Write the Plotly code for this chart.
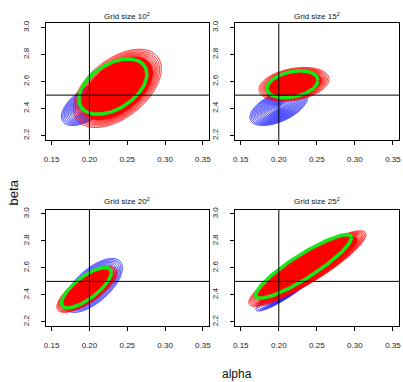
import numpy as np
import plotly.graph_objects as go

# ---------------- data ----------------
titles = ["Grid size 10<sup>2</sup>", "Grid size 15<sup>2</sup>",
          "Grid size 20<sup>2</sup>", "Grid size 25<sup>2</sup>"]
x_ticks = [0.15, 0.20, 0.25, 0.30, 0.35]
x_tick_labels = ["0.15", "0.20", "0.25", "0.30", "0.35"]
y_ticks = [2.2, 2.4, 2.6, 2.8, 3.0]
y_tick_labels = ["2.2", "2.4", "2.6", "2.8", "3.0"]
true_alpha = 0.2
true_beta = 2.5

# red posterior (per panel): centre, half extent of outer contour, correlation
red_center_alpha = [0.237, 0.220, 0.197, 0.2375]
red_center_beta = [2.550, 2.580, 2.440, 2.595]
red_half_alpha = [0.058, 0.046, 0.040, 0.077]
red_half_beta = [0.290, 0.125, 0.170, 0.280]
red_corr = [0.50, 0.30, 0.75, 0.90]
red_fill_frac = [0.80, 0.78, 0.82, 0.85]

# blue posterior
blue_center_alpha = [0.200, 0.200, 0.205, 0.215]
blue_center_beta = [2.440, 2.410, 2.470, 2.460]
blue_half_alpha = [0.037, 0.038, 0.0386, 0.045]
blue_half_beta = [0.165, 0.135, 0.200, 0.180]
blue_corr = [0.60, 0.55, 0.65, 0.92]

# green ellipse
green_center_alpha = [0.231, 0.218, 0.196, 0.2325]
green_center_beta = [2.563, 2.580, 2.453, 2.611]
green_half_alpha = [0.045, 0.0335, 0.033, 0.063]
green_half_beta = [0.205, 0.100, 0.150, 0.236]
green_corr = [0.45, 0.30, 0.75, 0.90]

# ---------------- helpers ----------------
def radius_grid(cx, cy, ax, ay, rho, n=160):
    xs = np.linspace(cx - 1.15 * ax, cx + 1.15 * ax, n)
    ys = np.linspace(cy - 1.15 * ay, cy + 1.15 * ay, n)
    X, Y = np.meshgrid(xs, ys)
    u = (X - cx) / ax
    v = (Y - cy) / ay
    q = (u * u - 2 * rho * u * v + v * v) / (1 - rho * rho)
    return xs.astype(np.float32), ys.astype(np.float32), np.sqrt(q)


def ellipse(cx, cy, ax, ay, rho, r=1.0, n=200):
    t = np.linspace(0, 2 * np.pi, n)
    s = np.sqrt(1 - rho * rho)
    return cx + ax * r * np.cos(t), cy + ay * r * (rho * np.cos(t) + s * np.sin(t))


RED = "#ff0000"
BLUE = "#0000ff"
GREEN = "#14ea14"
FONT = "Liberation Sans, Arial, sans-serif"

fig = go.Figure()

x_domains = [[44 / 403, 209 / 403], [235 / 403, 401 / 403]]
y_domains = [[1 - 138 / 382, 1 - 20.5 / 382], [1 - 325.7 / 382, 1 - 208.3 / 382]]

axis_font = dict(family=FONT, size=8, color="#222222")

annotations = []
shapes = []
for i in range(4):
    row, col = divmod(i, 2)
    xa = "x" if i == 0 else f"x{i+1}"
    ya = "y" if i == 0 else f"y{i+1}"

    # blue contours (dense, evenly spaced)
    xs, ys, r = radius_grid(blue_center_alpha[i], blue_center_beta[i],
                            blue_half_alpha[i], blue_half_beta[i], blue_corr[i])
    fig.add_trace(go.Contour(x=xs, y=ys, z=r.astype(np.float32), xaxis=xa, yaxis=ya,
                             contours=dict(coloring="lines", start=0.05, end=1.0, size=0.05),
                             line=dict(width=0.8), colorscale=[[0, BLUE], [1, BLUE]],
                             showscale=False, hoverinfo="skip"))
    # red contours (spacing widening outward)
    xs, ys, r = radius_grid(red_center_alpha[i], red_center_beta[i],
                            red_half_alpha[i], red_half_beta[i], red_corr[i])
    dens = np.exp(-2.5 * r * r).astype(np.float32)
    f = red_fill_frac[i]
    lo, hi = float(np.exp(-2.5)), float(np.exp(-2.5 * f * f))
    fig.add_trace(go.Contour(x=xs, y=ys, z=dens, xaxis=xa, yaxis=ya,
                             contours=dict(coloring="lines", start=lo, end=hi, size=(hi - lo) / 7),
                             line=dict(width=0.9), colorscale=[[0, RED], [1, RED]],
                             showscale=False, hoverinfo="skip"))
    # red filled core
    ex, ey = ellipse(red_center_alpha[i], red_center_beta[i], red_half_alpha[i],
                     red_half_beta[i], red_corr[i], r=f)
    fig.add_trace(go.Scatter(x=ex, y=ey, xaxis=xa, yaxis=ya, mode="lines", fill="toself",
                             fillcolor=RED, line=dict(color=RED, width=1),
                             hoverinfo="skip", showlegend=False))
    # green ellipse
    gx, gy = ellipse(green_center_alpha[i], green_center_beta[i], green_half_alpha[i],
                     green_half_beta[i], green_corr[i])
    fig.add_trace(go.Scatter(x=gx, y=gy, xaxis=xa, yaxis=ya, mode="lines",
                             line=dict(color=GREEN, width=3.5),
                             hoverinfo="skip", showlegend=False))

    # crosshair at true values
    shapes.append(dict(type="line", xref=xa, yref=f"{ya} domain", x0=true_alpha, x1=true_alpha,
                       y0=0, y1=1, line=dict(color="black", width=1)))
    shapes.append(dict(type="line", xref=f"{xa} domain", yref=ya, x0=0, x1=1,
                       y0=true_beta, y1=true_beta, line=dict(color="black", width=1)))

    xd = x_domains[col]
    yd = y_domains[row]
    key_x = "xaxis" if i == 0 else f"xaxis{i+1}"
    key_y = "yaxis" if i == 0 else f"yaxis{i+1}"
    fig.layout[key_x] = dict(domain=xd, anchor=ya, range=[0.142, 0.358],
                             tickvals=x_ticks, ticktext=x_tick_labels,
                             ticks="outside", ticklen=4, tickcolor="black", tickwidth=1,
                             showline=True, mirror=True, linecolor="black", linewidth=1,
                             showgrid=False, zeroline=False, tickfont=axis_font,
                             ticklabelstandoff=7, fixedrange=True)
    fig.layout[key_y] = dict(domain=yd, anchor=xa, range=[2.168, 3.032],
                             tickvals=y_ticks, ticktext=y_tick_labels, tickangle=-90,
                             ticks="outside", ticklen=4, tickcolor="black", tickwidth=1,
                             showline=True, mirror=True, linecolor="black", linewidth=1,
                             showgrid=False, zeroline=False, tickfont=axis_font,
                             ticklabelstandoff=8, fixedrange=True)

    title_y = 1 - 13 / 382 if row == 0 else 1 - 200 / 382
    annotations.append(dict(text=titles[i], x=(xd[0] + xd[1]) / 2, y=title_y,
                            xref="paper", yref="paper", xanchor="center", yanchor="middle",
                            showarrow=False, font=dict(family=FONT, size=8, color="#111111")))

annotations.append(dict(text="beta", x=12 / 403, y=1 - 191 / 382, xref="paper", yref="paper",
                        textangle=-90, showarrow=False, xanchor="center", yanchor="middle",
                        font=dict(family=FONT, size=13, color="#111111")))
annotations.append(dict(text="alpha", x=237.5 / 403, y=1 - 373.5 / 382, xref="paper", yref="paper",
                        showarrow=False, xanchor="center", yanchor="middle",
                        font=dict(family=FONT, size=12, color="#111111")))

fig.update_layout(width=403, height=382, margin=dict(l=0, r=0, t=0, b=0),
                  paper_bgcolor="white", plot_bgcolor="white", showlegend=False,
                  annotations=annotations, shapes=shapes)

fig.write_html("out.html", config={"displayModeBar": False})
